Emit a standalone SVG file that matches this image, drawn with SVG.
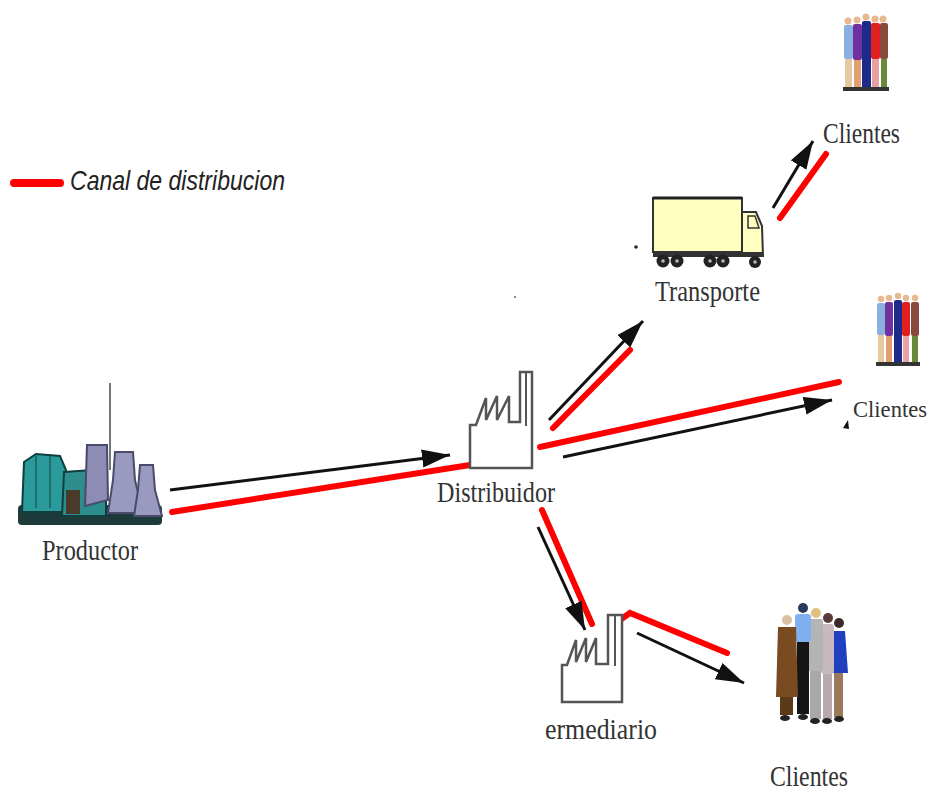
<svg xmlns="http://www.w3.org/2000/svg" width="934" height="791" viewBox="0 0 934 791">
  <style>
    .lbl { font-family: "Liberation Serif", "Times New Roman", serif; font-size: 29px; fill: #333; }
    .lbl-sm { font-size: 24px; }
    .legend { font-family: "Liberation Sans", Arial, sans-serif; font-style: italic; font-size: 28px; fill: #222; }
    .red { stroke: #f00; stroke-width: 6; stroke-linecap: round; fill: none; }
    .flow { stroke: #111; stroke-width: 3; fill: none; marker-end: url(#head); }
    .fac { fill: #fff; stroke: #555; stroke-width: 2.5; stroke-linejoin: miter; }
    .skin { fill: #e8b890; }
    .dark { fill: #222; }
  </style>
  <defs>
    <marker id="head" markerUnits="userSpaceOnUse" markerWidth="30" markerHeight="20" refX="28" refY="9" orient="auto">
      <path d="M0,0 L28,9 L0,18 Z" fill="#111"/>
    </marker>
  </defs>
  <rect width="934" height="791" fill="#fff"/>

  <!-- legend -->
  <g id="legend">
    <line x1="14" y1="183" x2="60" y2="183" stroke="#f00" stroke-width="8" stroke-linecap="round"/>
    <text class="legend" x="70" y="190" textLength="215" lengthAdjust="spacingAndGlyphs">Canal de distribucion</text>
  </g>

  <!-- connectors -->
  <g id="connectors">
    <!-- productor -> distribuidor -->
    <line class="flow" x1="170" y1="490" x2="450" y2="455"/>
    <line class="red" x1="172" y1="512" x2="470" y2="465"/>
    <!-- distribuidor -> transporte -->
    <line class="flow" x1="549" y1="420" x2="643" y2="321"/>
    <line class="red" x1="553" y1="428" x2="630" y2="350"/>
    <!-- transporte -> clientes (top) -->
    <line class="flow" x1="773" y1="208" x2="813" y2="141"/>
    <line class="red" x1="780" y1="218" x2="826" y2="154"/>
    <!-- distribuidor -> clientes (middle) -->
    <line class="red" x1="540" y1="447" x2="839" y2="382"/>
    <line class="flow" x1="563" y1="457" x2="832" y2="400"/>
    <!-- distribuidor -> intermediario -->
    <line class="red" x1="542" y1="510" x2="592" y2="624"/>
    <line class="flow" x1="538" y1="527" x2="585" y2="630"/>
    <!-- intermediario -> clientes (bottom) -->
    <polyline class="red" points="620,620 630,613 727,653"/>
    <line class="flow" x1="637" y1="633" x2="744" y2="683"/>
  </g>

  <!-- stray marks -->
  <circle cx="636" cy="247" r="1.8" fill="#222"/>
  <circle cx="515" cy="297" r="1" fill="#666"/>
  <path d="M843,428 L848,420 L849,429 Z" fill="#111"/>

  <!-- Productor -->
  <g id="productor">
    <line x1="110" y1="383" x2="110" y2="470" stroke="#777" stroke-width="2"/>
    <rect x="18" y="505" width="144" height="20" rx="4" fill="#1d3b3b"/>
    <path d="M22,512 L24,462 L36,454 L60,456 L66,470 L66,512 Z" fill="#2a9a9a" stroke="#0e3e3e" stroke-width="2"/>
    <path d="M36,456 L36,508 M50,456 L50,508" stroke="#1e6e6e" stroke-width="2"/>
    <path d="M64,472 L92,470 L106,480 L106,516 L62,516 Z" fill="#2e8e8e" stroke="#0e3e3e" stroke-width="2"/>
    <rect x="66" y="490" width="14" height="24" fill="#4a3a2a"/>
    <path d="M86,500 L96,484 L104,500" fill="#3bb0a8" stroke="#0e3e3e" stroke-width="1.5"/>
    <path d="M87,445 L107,445 L108,500 L85,506 Z" fill="#8c8cb4" stroke="#4a4a6a" stroke-width="2"/>
    <path d="M115,452 L133,452 L135,480 L143,513 L108,513 L113,480 Z" fill="#9a9ac0" stroke="#4a4a6a" stroke-width="2"/>
    <path d="M140,465 L153,465 L155,490 L162,516 L134,516 L138,490 Z" fill="#9a9ac0" stroke="#4a4a6a" stroke-width="2"/>
    <text class="lbl" x="42" y="560" textLength="96" lengthAdjust="spacingAndGlyphs">Productor</text>
  </g>

  <!-- Distribuidor -->
  <g id="distribuidor">
    <path class="fac" d="M470,468 L470,425 L476,425 L486,398 L486,420 L497,396 L497,420 L509,396 L509,422 L520,422 L520,372 L532,372 L532,468 Z"/>
    <line x1="526" y1="372" x2="526" y2="426" stroke="#555" stroke-width="2"/>
    <text class="lbl" x="437" y="502" textLength="118" lengthAdjust="spacingAndGlyphs">Distribuidor</text>
  </g>

  <!-- Transporte -->
  <g id="transporte">
    <rect x="653" y="198" width="89" height="54" fill="#ffffc0" stroke="#333" stroke-width="2"/>
    <line x1="653" y1="198" x2="742" y2="198" stroke="#222" stroke-width="3"/>
    <path d="M742,212 L756,212 L762,226 L763,256 L742,256 Z" fill="#ffffc0" stroke="#333" stroke-width="2"/>
    <path d="M748,216 L755,216 L759,228 L748,228 Z" fill="none" stroke="#333" stroke-width="1.5"/>
    <rect x="653" y="252" width="110" height="5" fill="#333"/>
    <g fill="#222">
      <circle cx="663" cy="261" r="6.5"/>
      <circle cx="677" cy="261" r="6.5"/>
      <circle cx="710" cy="261" r="6.5"/>
      <circle cx="723" cy="261" r="6.5"/>
      <circle cx="755" cy="262" r="6"/>
    </g>
    <g fill="#bbb">
      <circle cx="663" cy="261" r="1.8"/>
      <circle cx="677" cy="261" r="1.8"/>
      <circle cx="710" cy="261" r="1.8"/>
      <circle cx="723" cy="261" r="1.8"/>
      <circle cx="755" cy="262" r="1.8"/>
    </g>
    <text class="lbl" x="655" y="301" textLength="105" lengthAdjust="spacingAndGlyphs">Transporte</text>
  </g>

  <!-- Intermediario -->
  <g id="intermediario">
    <path class="fac" d="M562,702 L562,665 L567,665 L576,640 L576,662 L586,638 L586,662 L596,638 L596,664 L608,664 L608,615 L622,615 L622,702 Z"/>
    <line x1="615" y1="615" x2="615" y2="666" stroke="#555" stroke-width="2"/>
    <text class="lbl" x="545" y="739" textLength="112" lengthAdjust="spacingAndGlyphs">ermediario</text>
  </g>

  <!-- Clientes (top) -->
  <g id="clientes-top">
    <g transform="translate(843,13)">
      <circle class="skin" cx="5" cy="8" r="3.5"/>
      <rect x="1" y="12" width="9" height="34" rx="2" fill="#8ab0e0"/>
      <rect x="2" y="46" width="7" height="28" fill="#e8c8a0"/>
      <circle class="skin" cx="14" cy="7" r="3.5"/>
      <rect x="10" y="11" width="9" height="36" rx="2" fill="#7030a0"/>
      <rect x="11" y="47" width="7" height="27" fill="#e0a070"/>
      <circle class="skin" cx="23" cy="4" r="3.5"/>
      <rect x="19" y="8" width="9" height="70" rx="2" fill="#1e2a8a"/>
      <circle class="skin" cx="32" cy="6" r="3.5"/>
      <rect x="28" y="10" width="9" height="36" rx="2" fill="#e02020"/>
      <rect x="29" y="46" width="7" height="28" fill="#e8a0a0"/>
      <circle class="skin" cx="40" cy="6" r="3.5"/>
      <rect x="37" y="10" width="8" height="36" rx="2" fill="#8a4a3a"/>
      <rect x="38" y="46" width="6" height="28" fill="#6a8a3a"/>
      <rect x="0" y="74" width="46" height="4" fill="#333"/>
    </g>
    <text class="lbl" x="823" y="143" textLength="77" lengthAdjust="spacingAndGlyphs">Clientes</text>
  </g>

  <!-- Clientes (middle) -->
  <g id="clientes-mid">
    <g transform="translate(876,292)">
      <circle class="skin" cx="5" cy="7" r="3.2"/>
      <rect x="1" y="11" width="8" height="32" rx="2" fill="#8ab0e0"/>
      <rect x="2" y="43" width="6" height="27" fill="#e8c8a0"/>
      <circle class="skin" cx="13" cy="6" r="3.2"/>
      <rect x="9" y="10" width="8" height="34" rx="2" fill="#7030a0"/>
      <rect x="10" y="44" width="6" height="26" fill="#e0a070"/>
      <circle class="skin" cx="22" cy="4" r="3.2"/>
      <rect x="18" y="8" width="8" height="66" rx="2" fill="#1e2a8a"/>
      <circle class="skin" cx="30" cy="6" r="3.2"/>
      <rect x="26" y="10" width="8" height="34" rx="2" fill="#e02020"/>
      <rect x="27" y="44" width="6" height="26" fill="#e8a0a0"/>
      <circle class="skin" cx="39" cy="6" r="3.2"/>
      <rect x="35" y="10" width="8" height="34" rx="2" fill="#8a4a3a"/>
      <rect x="36" y="44" width="6" height="26" fill="#6a8a3a"/>
      <rect x="0" y="70" width="44" height="4" fill="#333"/>
    </g>
    <text class="lbl lbl-sm" x="853" y="417" textLength="74" lengthAdjust="spacingAndGlyphs">Clientes</text>
  </g>

  <!-- Clientes (bottom) -->
  <g id="clientes-bottom">
    <g transform="translate(775,603)">
      <!-- blue dress -->
      <circle cx="64" cy="20" r="5" fill="#3a2a2a"/>
      <path d="M58,28 L70,28 L73,70 L56,70 Z" fill="#2040c0"/>
      <rect x="59" y="70" width="9" height="44" fill="#9a7a5a"/>
      <!-- pink-gray -->
      <circle cx="53" cy="15" r="5" fill="#5a3a3a"/>
      <rect x="46" y="21" width="13" height="50" rx="3" fill="#c8b8c0"/>
      <rect x="48" y="71" width="9" height="45" fill="#b8a8b0"/>
      <!-- gray suit -->
      <circle cx="41" cy="10" r="5" fill="#e0c080"/>
      <rect x="33" y="16" width="15" height="52" rx="3" fill="#b4b4b4"/>
      <rect x="35" y="68" width="11" height="48" fill="#a8a8a8"/>
      <!-- blue shirt -->
      <circle cx="28" cy="5" r="5" fill="#2a3a5a"/>
      <rect x="20" y="11" width="16" height="28" rx="3" fill="#80b0f0"/>
      <rect x="22" y="39" width="12" height="72" fill="#151515"/>
      <!-- brown coat -->
      <circle cx="12" cy="17" r="5" fill="#d8c0a0"/>
      <path d="M3,24 L21,24 L23,94 L1,94 Z" fill="#7a4a20"/>
      <rect x="5" y="94" width="13" height="18" fill="#5a3a18"/>
      <g class="dark">
        <ellipse cx="10" cy="115" rx="5" ry="3"/>
        <ellipse cx="28" cy="114" rx="5" ry="3"/>
        <ellipse cx="40" cy="118" rx="5" ry="3"/>
        <ellipse cx="52" cy="118" rx="5" ry="3"/>
        <ellipse cx="64" cy="116" rx="5" ry="3"/>
      </g>
    </g>
    <text class="lbl" x="770" y="786" textLength="78" lengthAdjust="spacingAndGlyphs">Clientes</text>
  </g>
</svg>
